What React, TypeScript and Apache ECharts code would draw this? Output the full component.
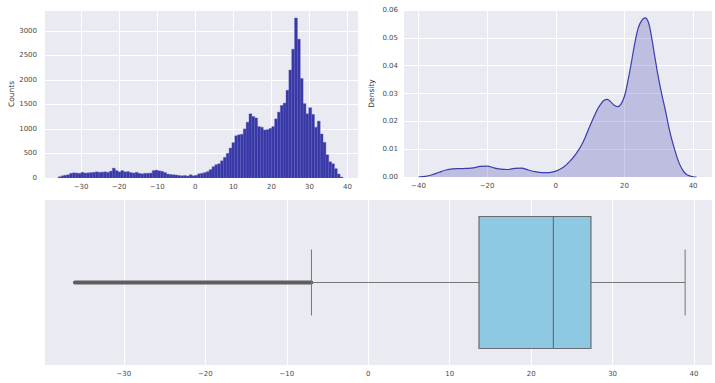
import React, { useEffect, useRef } from "react";
import * as echarts from "echarts";

// Histogram: bin edges start + width, counts per bin
const BIN_START = -36.0;
const BIN_WIDTH = 0.748;
const histCounts = [
  25, 45, 55, 65, 95, 105, 100, 95, 115, 100,
  105, 110, 115, 125, 115, 120, 125, 115, 140, 200,
  150, 125, 150, 125, 130, 110, 100, 115, 95, 85,
  95, 95, 100, 150, 160, 145, 135, 110, 80, 70,
  65, 60, 50, 45, 50, 40, 65, 45, 55, 85,
  95, 110, 130, 170, 230, 270, 290, 350, 420, 500,
  610, 720, 860, 880, 890, 1000, 1136, 1307, 1253, 1225,
  1047, 1034, 979, 985, 1010, 1047, 1205, 1342, 1478, 1526,
  1788, 2199, 2624, 3260, 2829, 2028, 1514, 1308, 1432, 1295,
  1034, 1158, 897, 726, 473, 330, 290, 190, 80, 20,
];

// KDE curve
const kdeX = [
  -40, -38, -36, -34, -32, -30, -28, -26, -24, -22, -20, -18, -16, -14, -12, -10,
  -8, -6, -4, -2, 0, 2, 4, 6, 8, 10, 12, 13, 14, 15, 16, 17, 18, 19, 20, 21,
  22, 23, 24, 25, 26, 27, 28, 29, 30, 31, 32, 33, 34, 35, 36, 37, 38, 39, 40, 41,
];
const kdeDensity = [
  0, 0.0002, 0.0008, 0.0017, 0.0025, 0.0029, 0.003, 0.0031, 0.0033, 0.0038, 0.0039, 0.0033, 0.0028, 0.0027, 0.0031, 0.0032,
  0.0025, 0.0019, 0.0016, 0.0016, 0.0021, 0.0033, 0.0055, 0.0085, 0.0127, 0.0185, 0.024, 0.026, 0.0275, 0.0279, 0.027, 0.0258, 0.0253, 0.0262, 0.029, 0.0345,
  0.041, 0.048, 0.0535, 0.0562, 0.0572, 0.0555, 0.0495, 0.042, 0.035, 0.029, 0.0235, 0.0175, 0.0125, 0.0083, 0.0048, 0.0024, 0.001, 0.0004, 0.0001, 0,
];

// Boxplot: [lower whisker, Q1, median, Q3, upper whisker]
const boxStats = [-6.97, 13.6, 22.73, 27.34, 38.9];
// Outliers span (min outlier .. lower whisker)
const outlierMin = -36.0;

const BG = "#EAEAF2";
const LABEL = "#4a4a4a";
const FONT = "DejaVu Sans";

const fmtNum = (v: number) => String(v).replace("-", "\u2212");

export default function App() {
  const ref = useRef<HTMLDivElement>(null);
  useEffect(() => {
    const chart = echarts.init(ref.current!, null, { renderer: "svg" });
    const histData = histCounts.map((c, i) => [
      BIN_START + i * BIN_WIDTH,
      BIN_START + (i + 1) * BIN_WIDTH,
      c,
    ]);
    const kdeData = kdeX.map((x, i) => [x, kdeDensity[i]]);
    const boxData = [[...boxStats, outlierMin, 0]];

    const labelBase = { color: LABEL, fontSize: 7, fontFamily: FONT };
    const split = { show: true, lineStyle: { color: "#ffffff", width: 1 } };
    const hideAxis = { axisLine: { show: false }, axisTick: { show: false } };
    const everyN = (n: number, fmt: (v: number) => string) => (v: number) =>
      Math.abs(v / n - Math.round(v / n)) < 1e-6 ? fmt(v) : "";

    chart.setOption({
      animation: false,
      backgroundColor: "#ffffff",
      grid: [
        { left: 44, top: 10, width: 314, height: 168, show: true, backgroundColor: BG, borderWidth: 0 },
        { left: 403, top: 10, width: 309, height: 167, show: true, backgroundColor: BG, borderWidth: 0 },
        { left: 44, top: 200, width: 670, height: 165, show: true, backgroundColor: BG, borderWidth: 0 },
      ],
      xAxis: [
        {
          type: "value", gridIndex: 0, min: -39.75, max: 42.75, splitNumber: 8,
          ...hideAxis, splitLine: split,
          axisLabel: { ...labelBase, margin: 5, formatter: everyN(10, fmtNum) },
        },
        {
          type: "value", gridIndex: 1, min: -44.5, max: 45.5, splitNumber: 5,
          ...hideAxis, splitLine: split,
          axisLabel: { ...labelBase, margin: 5, formatter: everyN(20, fmtNum) },
        },
        {
          type: "value", gridIndex: 2, min: -39.8, max: 42.2, splitNumber: 8,
          ...hideAxis, splitLine: split,
          axisLabel: { ...labelBase, margin: 5, formatter: everyN(10, fmtNum) },
        },
      ],
      yAxis: [
        {
          type: "value", gridIndex: 0, min: 0, max: 3423, interval: 500,
          ...hideAxis, splitLine: split,
          axisLabel: { ...labelBase, margin: 7, formatter: everyN(500, (v) => String(v)) },
          name: "Counts", nameLocation: "middle", nameGap: 29, nameRotate: 90,
          nameTextStyle: { color: "#333", fontSize: 7.5, fontFamily: FONT },
        },
        {
          type: "value", gridIndex: 1, min: 0, max: 0.06, interval: 0.01,
          ...hideAxis, splitLine: split,
          axisLabel: { ...labelBase, margin: 5, formatter: (v: number) => v.toFixed(2) },
          name: "Density", nameLocation: "middle", nameGap: 28, nameRotate: 90,
          nameTextStyle: { color: "#333", fontSize: 7.5, fontFamily: FONT },
        },
        {
          type: "value", gridIndex: 2, min: -0.5, max: 0.5,
          ...hideAxis, splitLine: { show: false }, axisLabel: { show: false },
        },
      ],
      series: [
        {
          type: "custom",
          xAxisIndex: 0,
          yAxisIndex: 0,
          data: histData,
          encode: { x: [0, 1], y: 2 },
          clip: true,
          renderItem: (_p: any, api: any) => {
            const p0 = api.coord([api.value(0), api.value(2)]);
            const p1 = api.coord([api.value(1), 0]);
            return {
              type: "rect",
              shape: { x: p0[0], y: p0[1], width: p1[0] - p0[0], height: p1[1] - p0[1] },
              style: { fill: "#3737a6", stroke: "#5c5cbe", lineWidth: 0.4 },
            };
          },
        },
        {
          type: "line",
          xAxisIndex: 1,
          yAxisIndex: 1,
          data: kdeData,
          smooth: 0.4,
          symbol: "none",
          lineStyle: { color: "#3c3cae", width: 1.2 },
          areaStyle: { color: "rgba(60,60,170,0.36)" },
        },
        {
          type: "custom",
          xAxisIndex: 2,
          yAxisIndex: 2,
          data: boxData,
          encode: { x: [0, 1, 2, 3, 4, 5], y: 6 },
          renderItem: (_p: any, api: any) => {
            const lw = api.value(0), q1 = api.value(1), med = api.value(2);
            const q3 = api.value(3), hw = api.value(4), omin = api.value(5), yc = api.value(6);
            const c = (x: number, y: number) => api.coord([x, y]);
            const gray = "#767676";
            const a = c(omin, yc), b = c(lw, yc), d = c(q1, yc), e = c(q3, yc), f = c(hw, yc);
            const tl = c(q1, yc + 0.4), br = c(q3, yc - 0.4);
            const mt = c(med, yc + 0.4), mb = c(med, yc - 0.4);
            const lc1 = c(lw, yc + 0.2), lc2 = c(lw, yc - 0.2);
            const hc1 = c(hw, yc + 0.2), hc2 = c(hw, yc - 0.2);
            return {
              type: "group",
              children: [
                { type: "line", shape: { x1: a[0], y1: a[1], x2: b[0], y2: b[1] }, style: { stroke: "#5e5e5e", lineWidth: 4, lineCap: "round" } },
                { type: "line", shape: { x1: b[0], y1: b[1], x2: d[0], y2: d[1] }, style: { stroke: gray, lineWidth: 1 } },
                { type: "line", shape: { x1: e[0], y1: e[1], x2: f[0], y2: f[1] }, style: { stroke: gray, lineWidth: 1 } },
                { type: "line", shape: { x1: lc1[0], y1: lc1[1], x2: lc2[0], y2: lc2[1] }, style: { stroke: gray, lineWidth: 1 } },
                { type: "line", shape: { x1: hc1[0], y1: hc1[1], x2: hc2[0], y2: hc2[1] }, style: { stroke: gray, lineWidth: 1 } },
                { type: "rect", shape: { x: tl[0], y: tl[1], width: br[0] - tl[0], height: br[1] - tl[1] }, style: { fill: "#8ec8e2", stroke: "#6c6c6c", lineWidth: 1.2 } },
                { type: "line", shape: { x1: mt[0], y1: mt[1], x2: mb[0], y2: mb[1] }, style: { stroke: "#6c6c6c", lineWidth: 1.2 } },
              ],
            };
          },
        },
      ],
    });
    return () => chart.dispose();
  }, []);
  return (
    <div
      ref={ref}
      style={{ position: "fixed", left: 0, top: 0, width: 715, height: 383 }}
    />
  );
}
